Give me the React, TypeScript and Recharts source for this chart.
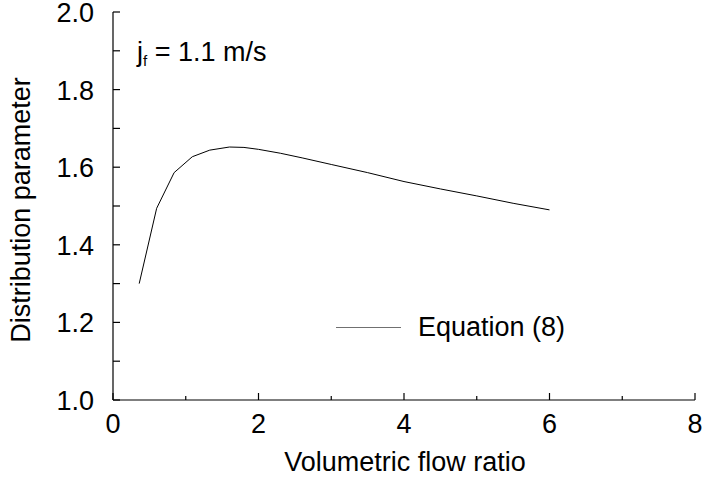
import { LineChart, Line, XAxis, YAxis, Legend, Customized } from 'recharts';

// curve
const flowRatio = [0.36, 0.6, 0.84, 1.09, 1.33, 1.6, 1.8, 2.0, 2.3, 2.6, 3.0, 3.5, 4.0, 4.5, 5.0, 5.5, 6.0];
const distParam = [1.3, 1.494, 1.586, 1.627, 1.644, 1.652, 1.651, 1.646, 1.636, 1.624, 1.607, 1.586, 1.563, 1.544, 1.526, 1.507, 1.49];
const xTicks = [0, 1, 2, 3, 4, 5, 6, 7, 8];
const yTicks = [1.0, 1.1, 1.2, 1.3, 1.4, 1.5, 1.6, 1.7, 1.8, 1.9, 2.0];

const data = flowRatio.map((x, i) => ({ x, c: distParam[i] }));

const FONT = '"Liberation Sans", Arial, sans-serif';
const FS = 27;

const isMajorX = (v: number) => Math.round(v) % 2 === 0;
const isMajorY = (v: number) => Math.round(v * 10) % 2 === 0;

const BottomTick = ({ x, y, payload }: any) => {
    const major = isMajorX(payload.value);
    return (
        <g>
            <line x1={x} x2={x} y1={y} y2={y - (major ? 7 : 4)} stroke="#000" strokeWidth={1.2} />
            {major && (
                <text x={x} y={y + 33} textAnchor="middle" fontSize={FS} fontFamily={FONT} fill="#000">
                    {payload.value}
                </text>
            )}
        </g>
    );
};

const TopTick = ({ x, y, payload }: any) => {
    const major = isMajorX(payload.value);
    return <line x1={x} x2={x} y1={y} y2={y + (major ? 7 : 4)} stroke="#000" strokeWidth={1.2} />;
};

const LeftTick = ({ x, y, payload }: any) => (
    <g>
        <line x1={x} x2={x + 7} y1={y} y2={y} stroke="#000" strokeWidth={1.2} />
        {isMajorY(payload.value) && (
            <text x={x - 19} y={y + 10} textAnchor="end" fontSize={FS} fontFamily={FONT} fill="#000">
                {payload.value.toFixed(1)}
            </text>
        )}
    </g>
);

const RightTick = ({ x, y }: any) => (
    <line x1={x} x2={x - 7} y1={y} y2={y} stroke="#000" strokeWidth={1.2} />
);

const LegendContent = () => (
    <div style={{ display: 'flex', alignItems: 'center', fontFamily: FONT, fontSize: FS, color: '#000', lineHeight: '31px' }}>
        <span style={{ display: 'inline-block', width: 65, height: 0, borderTop: '1.3px solid #707070', marginRight: 17 }} />
        <span>Equation (8)</span>
    </div>
);

const Texts = () => (
    <g fontFamily={FONT} fill="#000">
        <text x={137} y={61} fontSize={FS}>
            j<tspan fontSize={15} dy={5}>f</tspan>
            <tspan dy={-5}> = 1.1 m/s</tspan>
        </text>
        <text x={405} y={471} fontSize={FS} textAnchor="middle">
            Volumetric flow ratio
        </text>
        <text x={30} y={210} fontSize={FS} textAnchor="middle" transform="rotate(-90 30 210)">
            Distribution parameter
        </text>
    </g>
);

export default function App() {
    return (
        <div style={{ position: 'absolute', left: 0, top: 0, width: 703, height: 477, background: '#fff' }}>
            <LineChart width={703} height={477} data={data} margin={{ top: 12, right: 8, bottom: 0, left: 0 }}>
                <XAxis
                    xAxisId="b"
                    dataKey="x"
                    type="number"
                    domain={[0, 8]}
                    ticks={xTicks}
                    interval={0}
                    height={77}
                    tickSize={0}
                    tickMargin={0}
                    tickLine={false}
                    axisLine={{ stroke: '#000', strokeWidth: 1.2 }}
                    tick={<BottomTick />}
                />
                <XAxis
                    xAxisId="t"
                    orientation="top"
                    dataKey="x"
                    type="number"
                    domain={[0, 8]}
                    ticks={xTicks}
                    interval={0}
                    height={0}
                    tickSize={0}
                    tickMargin={0}
                    tickLine={false}
                    axisLine={{ stroke: '#000', strokeWidth: 1.2 }}
                    tick={<TopTick />}
                />
                <YAxis
                    yAxisId="l"
                    type="number"
                    domain={[1, 2]}
                    ticks={yTicks}
                    interval={0}
                    width={113}
                    tickSize={0}
                    tickMargin={0}
                    tickLine={false}
                    axisLine={{ stroke: '#000', strokeWidth: 1.2 }}
                    tick={<LeftTick />}
                />
                <YAxis
                    yAxisId="r"
                    orientation="right"
                    type="number"
                    domain={[1, 2]}
                    ticks={yTicks}
                    interval={0}
                    width={0}
                    tickSize={0}
                    tickMargin={0}
                    tickLine={false}
                    axisLine={{ stroke: '#000', strokeWidth: 1.2 }}
                    tick={<RightTick />}
                />
                <Line
                    xAxisId="b"
                    yAxisId="l"
                    type="linear"
                    dataKey="c"
                    name="Equation (8)"
                    stroke="#000"
                    strokeWidth={1}
                    dot={false}
                    activeDot={false}
                    isAnimationActive={false}
                />
                <Legend
                    layout="horizontal"
                    verticalAlign="middle"
                    align="center"
                    content={<LegendContent />}
                    wrapperStyle={{ position: 'absolute', left: 336, top: 312, width: 280 }}
                />
                <Customized component={<Texts />} />
            </LineChart>
        </div>
    );
}
